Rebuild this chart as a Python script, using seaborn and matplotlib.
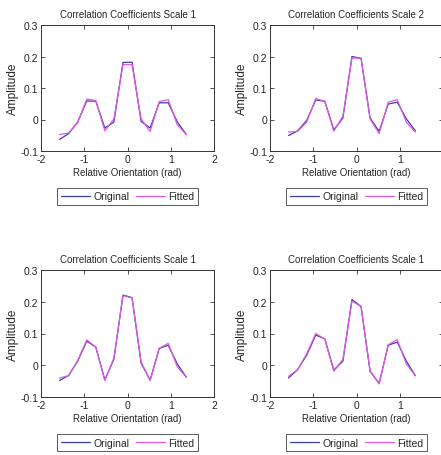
import matplotlib
matplotlib.use('Agg')
import matplotlib.pyplot as plt
import seaborn as sns
import pandas as pd

# relative orientation (rad), 15 samples
orientation = [-1.571, -1.361, -1.152, -0.942, -0.733, -0.524, -0.314, -0.105,
               0.105, 0.314, 0.524, 0.733, 0.942, 1.152, 1.361]

titles = ['Correlation Coefficients Scale 1', 'Correlation Coefficients Scale 2',
          'Correlation Coefficients Scale 1', 'Correlation Coefficients Scale 1']

orig_1 = [-0.063, -0.045, -0.008, 0.059, 0.058, -0.027, -0.008, 0.181,
          0.182, -0.006, -0.027, 0.053, 0.053, -0.008, -0.048]
fit_1 = [-0.048, -0.043, -0.010, 0.065, 0.060, -0.036, 0.002, 0.174,
         0.174, 0.002, -0.038, 0.057, 0.063, -0.017, -0.048]

orig_2 = [-0.051, -0.036, -0.003, 0.062, 0.058, -0.033, 0.005, 0.200,
          0.194, 0.005, -0.038, 0.049, 0.055, 0.002, -0.036]
fit_2 = [-0.040, -0.038, -0.008, 0.067, 0.057, -0.037, 0.011, 0.195,
         0.195, 0.002, -0.045, 0.055, 0.063, -0.008, -0.040]

orig_3 = [-0.048, -0.032, 0.013, 0.076, 0.057, -0.046, 0.019, 0.221,
          0.213, 0.007, -0.047, 0.053, 0.063, 0.004, -0.038]
fit_3 = [-0.040, -0.033, 0.015, 0.080, 0.057, -0.048, 0.023, 0.219,
         0.212, 0.011, -0.048, 0.053, 0.069, -0.005, -0.038]

orig_4 = [-0.040, -0.014, 0.032, 0.095, 0.083, -0.015, 0.013, 0.207,
          0.185, -0.019, -0.057, 0.063, 0.073, 0.013, -0.033]
fit_4 = [-0.035, -0.014, 0.036, 0.100, 0.082, -0.019, 0.019, 0.202,
         0.185, -0.017, -0.059, 0.065, 0.081, 0.004, -0.033]

originals = [orig_1, orig_2, orig_3, orig_4]
fitteds = [fit_1, fit_2, fit_3, fit_4]

x_ticks = [-2, -1, 0, 1, 2]
y_ticks = [-0.1, 0, 0.1, 0.2, 0.3]
y_tick_labels = ['-0.1', '0', '0.1', '0.2', '0.3']

sns.set_style('ticks')
plt.rcParams['font.family'] = ['Liberation Sans', 'DejaVu Sans']

W, H = 441, 456
fig = plt.figure(figsize=(W / 100, H / 100), dpi=100)

# axes boxes in pixels: left, top, width, height
# (right column runs just past the picture edge, as in the reference)
boxes = [(41, 26, 173, 126), (270, 26, 173, 126),
         (41, 271, 173, 127), (270, 271, 173, 127)]

palette = {'Original': '#3c3ca8', 'Fitted': '#e058e0'}
edge = '#333333'

for i, (box, title, orig, fit) in enumerate(zip(boxes, titles, originals, fitteds)):
    l, t, w, h = box
    ax = fig.add_axes([l / W, (H - t - h) / H, w / W, h / H])
    df = pd.DataFrame({
        'x': orientation * 2,
        'y': orig + fit,
        'series': ['Original'] * len(orig) + ['Fitted'] * len(fit),
    })
    sns.lineplot(data=df, x='x', y='y', hue='series', palette=palette,
                 linewidth=0.9, ax=ax, sort=False)
    ax.set_xlim(-2, 2)
    ax.set_ylim(-0.1, 0.3)
    ax.set_xticks(x_ticks)
    labels = [str(v) for v in x_ticks]
    if i % 2 == 1:
        labels[-1] = ''  # falls outside the picture in the reference
    ax.set_xticklabels(labels)
    ax.set_yticks(y_ticks)
    ax.set_yticklabels(y_tick_labels)
    ax.tick_params(direction='in', length=3, width=0.6, labelsize=7.5,
                   top=True, right=True, pad=2, color=edge)
    for s in ax.spines.values():
        s.set_visible(True)
        s.set_color(edge)
        s.set_linewidth(0.7)
    ax.set_title(title, fontsize=7, pad=6)
    ax.set_xlabel('Relative Orientation (rad)', fontsize=7, labelpad=2)
    ax.set_ylabel('Amplitude', fontsize=8.5, labelpad=1)
    leg = ax.legend(loc='upper center', bbox_to_anchor=(0.5, -0.25), ncol=2,
                    fontsize=7.5, frameon=True, fancybox=False, handlelength=2.8,
                    columnspacing=0.6, handletextpad=0.3, borderpad=0.35,
                    title=None)
    leg.get_frame().set_edgecolor(edge)
    leg.get_frame().set_linewidth(0.7)

fig.savefig('out.png', dpi=100)
